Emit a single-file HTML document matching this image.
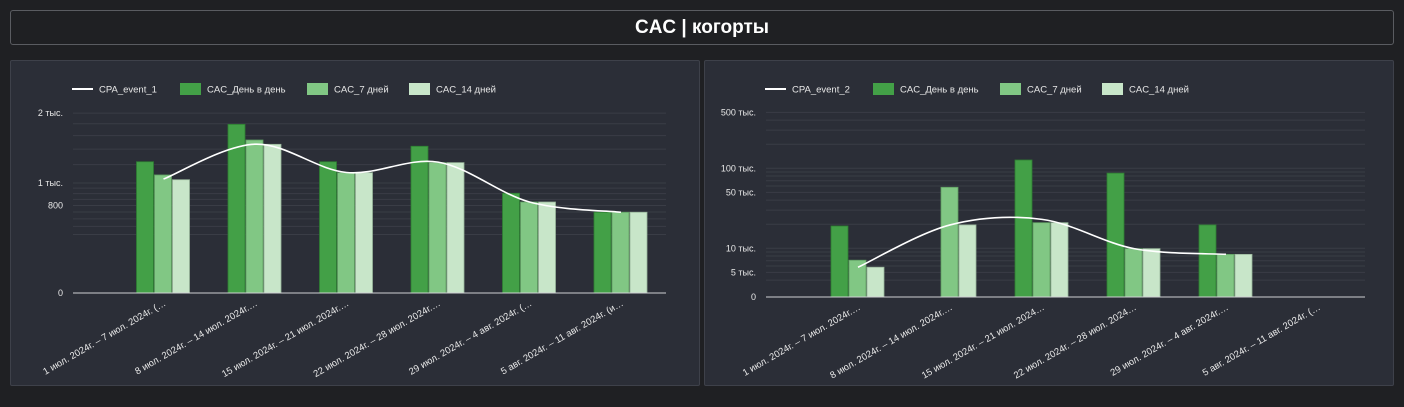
<!DOCTYPE html>
<html><head><meta charset="utf-8">
<style>
html,body{margin:0;padding:0;background:#1f2023;width:1404px;height:407px;overflow:hidden;font-family:"Liberation Sans","DejaVu Sans",sans-serif;}
#title{position:absolute;left:10px;top:10px;width:1382px;height:33px;border:1px solid #5a5c61;border-radius:3px;background:#1f2023;color:#fff;font-weight:bold;font-size:19px;text-align:center;line-height:33px;}
.panel{position:absolute;top:60px;width:688px;height:324px;background:#2b2e37;border:1px solid #3e414a;border-radius:2px;}
svg{position:absolute;left:0;top:0;}
text{font-family:"Liberation Sans","DejaVu Sans",sans-serif;fill:#e8e8e8;}
</style></head><body>
<div id="title">CAC | когорты</div>
<div class="panel" style="left:10px"></div>
<div class="panel" style="left:704px"></div>
<svg id="s" width="1404" height="407"></svg>
<script>
const categories1 = ["1 июл. 2024г. – 7 июл. 2024г. (…","8 июл. 2024г. – 14 июл. 2024г.…","15 июл. 2024г. – 21 июл. 2024г.…","22 июл. 2024г. – 28 июл. 2024г.…","29 июл. 2024г. – 4 авг. 2024г. (…","5 авг. 2024г. – 11 авг. 2024г. (и…"];
const cacDay1 = [1235,1790,1235,1440,903,748];
const cac7_1 = [1083,1532,1108,1224,828,748];
const cac14_1 = [1033,1468,1108,1224,828,748];
const cpa1 = [1040,1470,1110,1230,828,748];
const ticks1 = [0,800,1000,2000];
const tickLabels1 = ["0","800","1 тыс.","2 тыс."];
const minor1 = [600,650,700,750,800,850,900,950,1000,1200,1400,1600,1800,2000];

const categories2 = ["1 июл. 2024г. – 7 июл. 2024г.…","8 июл. 2024г. – 14 июл. 2024г.…","15 июл. 2024г. – 21 июл. 2024…","22 июл. 2024г. – 28 июл. 2024…","29 июл. 2024г. – 4 авг. 2024г.…","5 авг. 2024г. – 11 авг. 2024г. (…"];
const cacDay2 = [19000,null,127000,87000,19600,null];
const cac7_2 = [7100,57900,20900,9900,8400,null];
const cac14_2 = [5800,19600,20900,9900,8400,null];
const cpa2 = [5800,19600,23000,9900,8400,null];
const ticks2 = [0,5000,10000,50000,100000,500000];
const tickLabels2 = ["0","5 тыс.","10 тыс.","50 тыс.","100 тыс.","500 тыс."];
const minor2 = [4000,5000,6000,7000,8000,9000,10000,20000,30000,40000,50000,60000,70000,80000,90000,100000,200000,300000,400000,500000];

const svg=document.getElementById('s');
const NS='http://www.w3.org/2000/svg';
function mk(tag,attrs,parent){const e=document.createElementNS(NS,tag);for(const k in attrs)e.setAttribute(k,attrs[k]);(parent||svg).appendChild(e);return e;}

function drawChart(o){
  const g=mk('g',{});
  
  
  const y=v=>v<=0?o.base:o.refY-o.ppd*Math.log10(v/o.refV);
  const cx=i=>o.c0+i*o.step;
  // minor grid
  o.minor.forEach(v=>{const l=mk('line',{x1:o.x0,x2:o.x1,y1:y(v),y2:y(v),stroke:'#3a3d46','stroke-width':1},g);
    });
  o.ticks.forEach((v,i)=>{
    const t=mk('text',{x:o.x0-10,y:y(v)+3,'text-anchor':'end','font-size':9},g);
    t.textContent=o.tickLabels[i];
    
  });
  // bars
  const bw=17,cols=['#43a047','#81c784','#c8e6c9'],strokes=['#2e7d32','#5f9e62','#98b59a'];
  [o.s1,o.s2,o.s3].forEach((ser,si)=>{
    ser.forEach((v,i)=>{if(v==null)return;
      const x=cx(i)-27+si*18,yt=y(v);
      const r=mk('rect',{x:x,y:yt,width:bw,height:o.base-yt,fill:cols[si],stroke:strokes[si],'stroke-width':0.8},g);
      
      
    });
  });
  mk('line',{x1:o.x0,x2:o.x1,y1:o.base,y2:o.base,stroke:'#cfd0d3','stroke-width':1},g);
  // line (catmull-rom)
  const pts=[];o.line.forEach((v,i)=>{if(v!=null)pts.push([cx(i),y(v)]);});
  let d='M'+pts[0][0]+','+pts[0][1];
  for(let i=0;i<pts.length-1;i++){const p0=pts[i-1]||pts[i],p1=pts[i],p2=pts[i+1],p3=pts[i+2]||p2;
    d+=' C'+(p1[0]+(p2[0]-p0[0])/6)+','+(p1[1]+(p2[1]-p0[1])/6)+' '+(p2[0]-(p3[0]-p1[0])/6)+','+(p2[1]-(p3[1]-p1[1])/6)+' '+p2[0]+','+p2[1];}
  const pl=mk('path',{d:d,fill:'none',stroke:'#fff','stroke-width':1.6},g);
  
  // x labels
  o.cats.forEach((c,i)=>{
    const t=mk('text',{x:0,y:0,'text-anchor':'end','font-size':9.5,transform:'translate('+(cx(i)+3)+','+(o.base+12)+') rotate(-30)'},g);
    t.textContent=c;
    
  });
  // legend
  const lx=o.lx,ly=89;
  mk('line',{x1:lx,x2:lx+21,y1:ly,y2:ly,stroke:'#fff','stroke-width':2},g);
  const items=[[lx+27,o.lineName],[lx+135,'CAC_День в день'],[lx+262,'CAC_7 дней'],[lx+364,'CAC_14 дней']];
  items.forEach((it,k)=>{
    if(k>0){const r=mk('rect',{x:it[0]-27,y:ly-6,width:21,height:12,fill:cols[k-1]},g);
      }
    const t=mk('text',{x:it[0],y:ly+3.5,'font-size':9.5},g);t.textContent=it[1];
    
  });
}
drawChart({name:'chart-event-1',x0:73,x1:666,base:293,refY:183,refV:1000,ppd:232,c0:163.5,step:91.5,
  minor:minor1,ticks:ticks1,tickLabels:tickLabels1,s1:cacDay1,s2:cac7_1,s3:cac14_1,line:cpa1,cats:categories1,lx:72,lineName:'CPA_event_1'});
drawChart({name:'chart-event-2',x0:766,x1:1365,base:297,refY:248.3,refV:10000,ppd:80,c0:858,step:92,
  minor:minor2,ticks:ticks2,tickLabels:tickLabels2,s1:cacDay2,s2:cac7_2,s3:cac14_2,line:cpa2,cats:categories2,lx:765,lineName:'CPA_event_2'});
</script>
</body></html>
